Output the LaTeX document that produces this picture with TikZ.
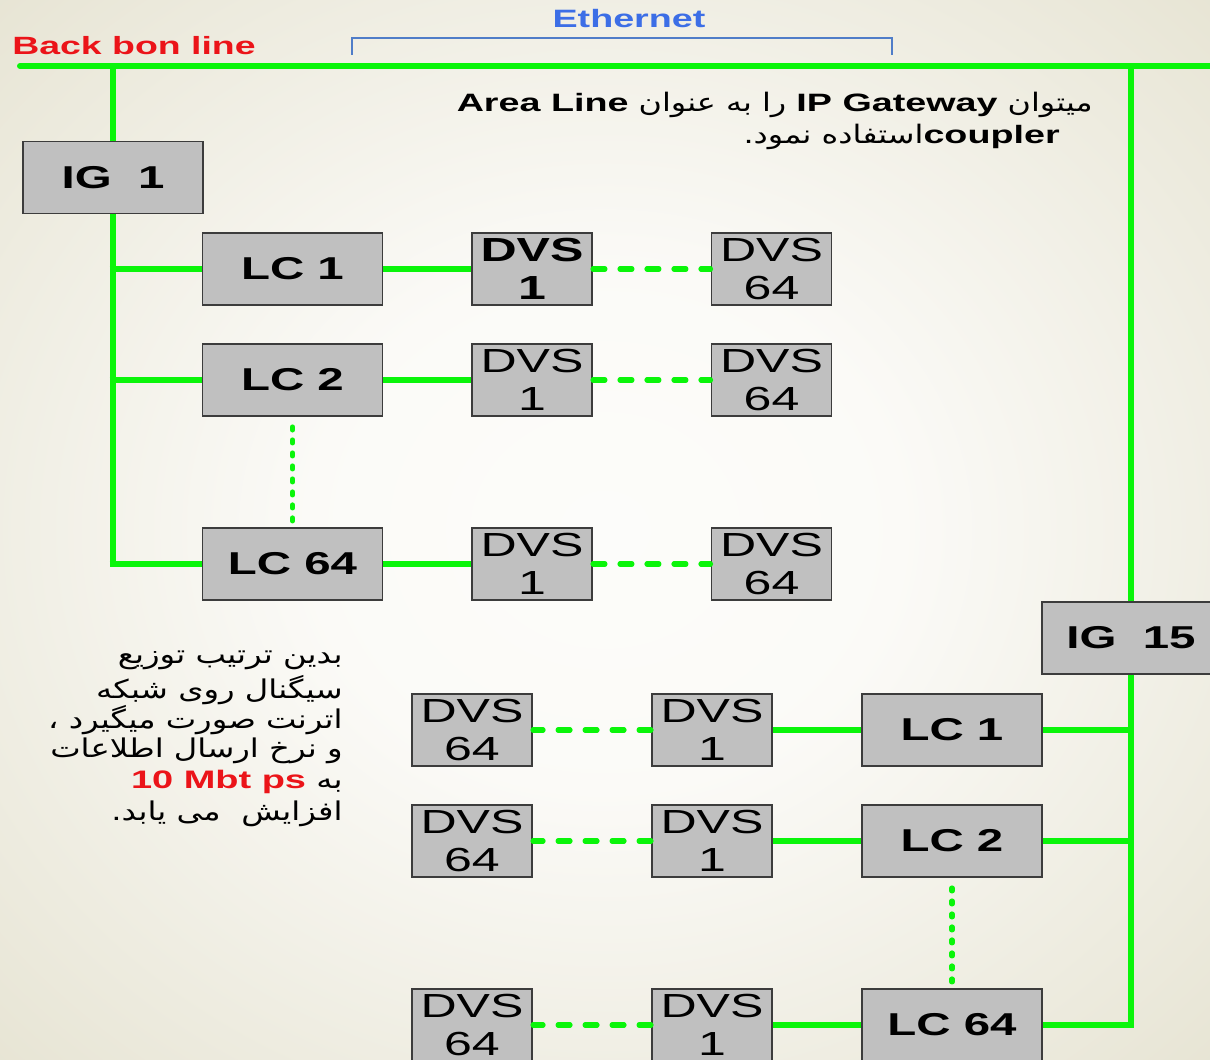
\documentclass[tikz,border=0pt]{standalone}
\usepackage{fontspec}
\setmainfont{Liberation Sans}[FakeStretch=1.5]
\newfontfamily\latinb{Liberation Sans Bold}[FakeStretch=1.5]
\newfontfamily\latinr{Liberation Sans}[FakeStretch=1.5]
\newfontfamily\farsi[Script=Arabic,FakeStretch=1.25]{DejaVu Sans}
\TeXXeTstate=1

\definecolor{netgreen}{RGB}{10,245,10}
\definecolor{boxgray}{RGB}{192,192,192}
\definecolor{boxedge}{RGB}{60,60,60}
\definecolor{ethblue}{RGB}{60,110,230}
\definecolor{brackblue}{RGB}{80,125,200}
\definecolor{notered}{RGB}{235,20,25}

% soft paper background, lighter in the middle
\pgfdeclareradialshading{paper}{\pgfpoint{0bp}{0bp}}{%
  rgb(0bp)=(0.99,0.99,0.98);
  rgb(12bp)=(0.985,0.982,0.97);
  rgb(36bp)=(0.905,0.895,0.83);
  rgb(50bp)=(0.905,0.895,0.83)}

\begin{document}
\begin{tikzpicture}[x=0.02cm,y=-0.02cm,
  unit/.style={draw=boxedge, line width=1.1pt, fill=boxgray, inner sep=0pt,
    minimum height=1.44cm, align=center},
  gatebox/.style={unit, minimum width=3.6cm,
    font=\latinb\fontsize{18}{21}\selectfont},
  linebox/.style={unit, minimum width=3.6cm,
    font=\latinb\fontsize{18}{21}\selectfont},
  devbox/.style={unit, minimum width=2.4cm,
    font=\latinr\fontsize{19}{21.5}\selectfont},
  devboxb/.style={devbox, font=\latinb\fontsize{19}{21.5}\selectfont},
  bus/.style={draw=netgreen, line width=3.4pt, line cap=round},
  drop/.style={draw=netgreen, line width=3.8pt},
  branch/.style={draw=netgreen, line width=2.9pt},
  dashlink/.style={draw=netgreen, line width=2.9pt, line cap=round,
    dash pattern=on 0.24cm off 0.3cm},
  dotlink/.style={draw=netgreen, line width=2.9pt, line cap=round,
    dash pattern=on 0.06cm off 0.2cm},
  fanote/.style={anchor=east, inner sep=0pt,
    font=\farsi\fontsize{14.7}{18}\selectfont}
]
\useasboundingbox (0,0) rectangle (1210,1060);
\shade[shading=paper] (0,0) rectangle (1210,1060);

\begin{scope}
\clip (0,0) rectangle (1210,1060);

% ---- headings ----
\node[anchor=west, inner sep=0pt, text=notered,
  font=\latinb\fontsize{14.2}{16}\selectfont] (bbtitle) at (12,46) {Back bon line};
\node[inner sep=0pt, text=ethblue,
  font=\latinb\fontsize{14.3}{16}\selectfont] (ethtitle) at (629,19) {Ethernet};
\draw[brackblue, line width=1.4pt] (352,55) -- (352,38) -- (892,38) -- (892,55);

% ---- backbone ----
\coordinate (bbL) at (20,66);
\coordinate (bbR) at (1215,66);
\draw[bus] (bbL) -- (bbR);

% ---- area 1 ----
\node[gatebox] (ig1) at (113,177.5) {IG~~1};
\node[linebox] (lcA1)  at (292.5,269) {LC 1};
\node[linebox] (lcA2)  at (292.5,380) {LC 2};
\node[linebox] (lcA64) at (292.5,564) {LC 64};
\node[devboxb] (dA1a)  at (532,269) {DVS\\1};
\node[devbox]  (dA1b)  at (771.5,269) {DVS\\64};
\node[devbox]  (dA2a)  at (532,380) {DVS\\1};
\node[devbox]  (dA2b)  at (771.5,380) {DVS\\64};
\node[devbox]  (dA64a) at (532,564) {DVS\\1};
\node[devbox]  (dA64b) at (771.5,564) {DVS\\64};

\draw[drop] (bbL -| ig1.north) -- (ig1.north);
\draw[drop] (ig1.south) -- (ig1.south |- lcA64.west);
\foreach \n in {lcA1,lcA2,lcA64}
  \draw[branch, shorten <=-1.9pt] (ig1.south |- \n.west) -- (\n.west);
\draw[branch] (lcA1.east) -- (dA1a.west);
\draw[branch] (lcA2.east) -- (dA2a.west);
\draw[branch] (lcA64.east) -- (dA64a.west);
\draw[dashlink] (dA1a.east) -- (dA1b.west);
\draw[dashlink] (dA2a.east) -- (dA2b.west);
\draw[dashlink] (dA64a.east) -- (dA64b.west);
\draw[dotlink, shorten <=0.2cm] (lcA2.south) -- (lcA64.north);

% ---- area 15 ----
\node[gatebox, minimum width=3.56cm] (ig15) at (1131,638) {IG~~15};
\node[linebox] (lcB1)  at (952,730) {LC 1};
\node[linebox] (lcB2)  at (952,841) {LC 2};
\node[linebox] (lcB64) at (952,1025) {LC 64};
\node[devbox] (dB1a)  at (712,730) {DVS\\1};
\node[devbox] (dB1b)  at (472,730) {DVS\\64};
\node[devbox] (dB2a)  at (712,841) {DVS\\1};
\node[devbox] (dB2b)  at (472,841) {DVS\\64};
\node[devbox] (dB64a) at (712,1025) {DVS\\1};
\node[devbox] (dB64b) at (472,1025) {DVS\\64};

\draw[drop] (bbR -| ig15.north) -- (ig15.north);
\draw[drop] (ig15.south) -- (ig15.south |- lcB64.east);
\foreach \n in {lcB1,lcB2,lcB64}
  \draw[branch, shorten >=-1.9pt] (\n.east) -- (ig15.south |- \n.east);
\draw[branch] (lcB1.west) -- (dB1a.east);
\draw[branch] (lcB2.west) -- (dB2a.east);
\draw[branch] (lcB64.west) -- (dB64a.east);
\draw[dashlink] (dB1a.west) -- (dB1b.east);
\draw[dashlink] (dB2a.west) -- (dB2b.east);
\draw[dashlink] (dB64a.west) -- (dB64b.east);
\draw[dotlink, shorten <=0.2cm] (lcB2.south) -- (lcB64.north);

% ---- notes ----
\node[fanote, font=\farsi\fontsize{14.5}{17}\selectfont] (noteA) at (1093,105)
  {\beginR میتوان \beginL{\latinb\fontsize{14.3}{17}\selectfont IP Gateway}\endL{} را به عنوان \beginL{\latinb\fontsize{14.3}{17}\selectfont Area Line}\endL\endR};
\node[fanote, font=\farsi\fontsize{14.5}{17}\selectfont] (noteB) at (1060,137)
  {\beginR\beginL{\latinb\fontsize{14.3}{17}\selectfont coupler}\endL استفاده نمود.\endR};

\node[fanote] (noteC1) at (343,660) {\beginR بدین ترتیب توزیع\endR};
\node[fanote] (noteC2) at (343,690) {\beginR سیگنال روی شبکه\endR};
\node[fanote] (noteC3) at (343,720) {\beginR اترنت صورت میگیرد ،\endR};
\node[fanote] (noteC4) at (343,751) {\beginR و نرخ ارسال اطلاعات\endR};
\node[fanote] (noteC5) at (343,782) {\beginR به \beginL{\latinb\fontsize{14.4}{17}\selectfont\color{notered}10 Mbt ps}\endL\endR};
\node[fanote] (noteC6) at (343,814) {\beginR افزایش~ می یابد.\endR};
\end{scope}
\end{tikzpicture}
\end{document}
